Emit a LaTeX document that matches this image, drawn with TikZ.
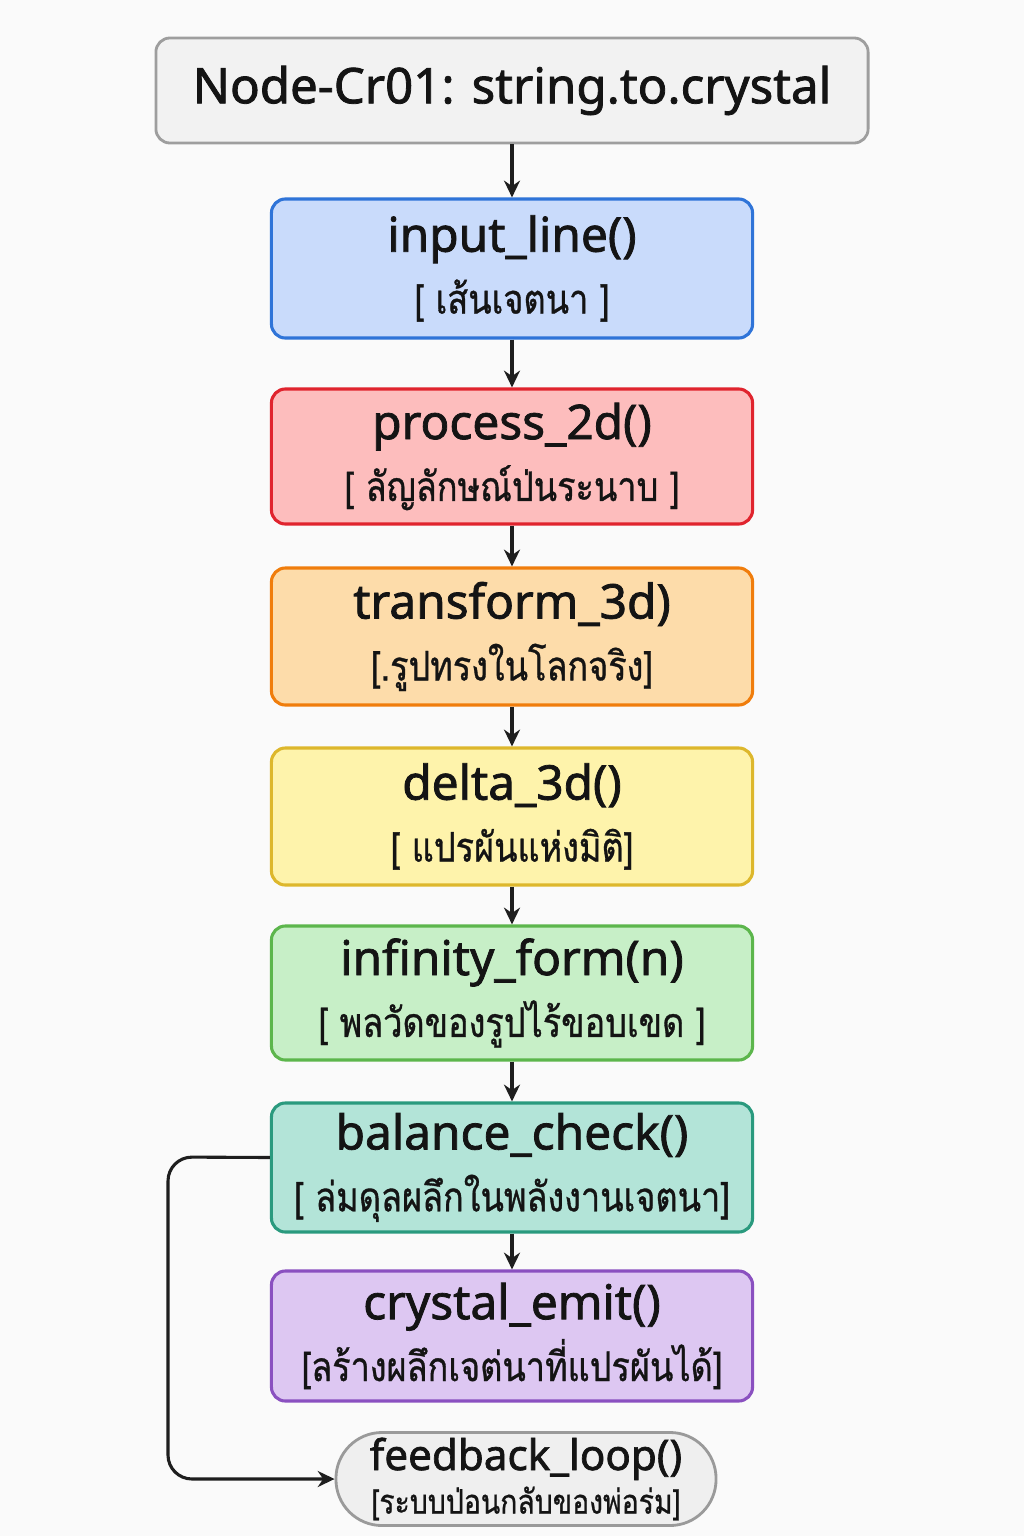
\documentclass[tikz,border=0pt]{standalone}
\usepackage{fontspec}
\setmainfont{Noto Sans}
\newfontfamily\semifont{Noto Sans}[FakeBold=1.6]
\newfontfamily\thaifont[Script=Thai, FakeStretch=0.84, FakeBold=0.8]{Loma}
\usetikzlibrary{arrows.meta}

\definecolor{pagebg}{HTML}{FAFAFA}
\definecolor{topfill}{HTML}{F2F2F2}
\definecolor{topdraw}{HTML}{9E9E9E}
\definecolor{inpfill}{HTML}{C9DBFB}
\definecolor{inpdraw}{HTML}{2F74D8}
\definecolor{prcfill}{HTML}{FDBDBD}
\definecolor{prcdraw}{HTML}{E0242E}
\definecolor{trnfill}{HTML}{FDDCAA}
\definecolor{trndraw}{HTML}{F07D0C}
\definecolor{dltfill}{HTML}{FEF3AB}
\definecolor{dltdraw}{HTML}{DDB72C}
\definecolor{inffill}{HTML}{C7EFC7}
\definecolor{infdraw}{HTML}{5CB64C}
\definecolor{balfill}{HTML}{B3E4D8}
\definecolor{baldraw}{HTML}{2A9A7E}
\definecolor{cryfill}{HTML}{DDC7F2}
\definecolor{crydraw}{HTML}{8A50C0}
\definecolor{fbkfill}{HTML}{EFEFEF}
\definecolor{fbkdraw}{HTML}{9A9A9A}
\definecolor{linecol}{HTML}{1E1E1E}
\definecolor{textcol}{HTML}{141414}

\newcommand{\namefont}{\semifont\fontsize{34}{40}\selectfont}
\newcommand{\thaitext}{\thaifont\fontsize{29}{32}\selectfont}

\tikzset{
  stepbox/.style={draw, rounded corners=0.35cm, line width=2.2pt, minimum width=12.025cm,
    align=center, inner sep=0pt, font=\namefont, text=textcol},
  flow/.style={draw=linecol, line width=2.2pt, -{Stealth[length=0.42cm, width=0.4cm]}}
}

\begin{document}
\begin{tikzpicture}[x=0.025cm, y=-0.025cm]
\fill[pagebg] (0,0) rectangle (1024,1536);
\useasboundingbox (0,0) rectangle (1024,1536);

\node[draw=topdraw, fill=topfill, rounded corners=0.35cm, line width=2pt, minimum width=17.8cm, minimum height=2.625cm, font=\semifont\fontsize{35}{40}\selectfont, text=textcol] (top) at (512,90.5) {Node-Cr01: string.to.crystal};

\node[stepbox, draw=inpdraw, fill=inpfill, minimum height=3.475cm] (inp) at (512,268.5) {input\_line()\\[4pt]{\thaitext [ เส้นเจตนา ]}};
\node[stepbox, draw=prcdraw, fill=prcfill, minimum height=3.375cm] (prc) at (512,456.5) {process\_2d()\\[4pt]{\thaitext [ ลัญลักษณ์ป่นระนาบ ]}};
\node[stepbox, draw=trndraw, fill=trnfill, minimum height=3.425cm] (trn) at (512,636.5) {transform\_3d)\\[4pt]{\thaitext [.รูปทรงในโลกจริง]}};
\node[stepbox, draw=dltdraw, fill=dltfill, minimum height=3.425cm] (dlt) at (512,816.5) {delta\_3d()\\[4pt]{\thaitext [ แปรผันแห่งมิติ]}};
\node[stepbox, draw=infdraw, fill=inffill, minimum height=3.35cm] (inf) at (512,993) {infinity\_form(n)\\[4pt]{\thaitext [ พลวัดของรูปไร้ขอบเขด ]}};
\node[stepbox, draw=baldraw, fill=balfill, minimum height=3.225cm] (bal) at (512,1167.5) {balance\_check()\\[4pt]{\thaitext [ ล่มดุลผลึกในพลังงานเจตนา]}};
\node[stepbox, draw=crydraw, fill=cryfill, minimum height=3.25cm] (cry) at (512,1336) {crystal\_emit()\\[4pt]{\thaitext [ลร้างผลึกเจต่นาที่แปรผันได้]}};

\node[draw=fbkdraw, fill=fbkfill, line width=2pt, rounded corners=1.15cm, minimum width=9.5cm, minimum height=2.325cm, inner sep=0pt, align=center, font=\semifont\fontsize{30}{34}\selectfont, text=textcol] (fbk) at (526,1479) {feedback\_loop()\\[-3pt]{\thaifont\fontsize{24}{26}\selectfont [ระบบป่อนกลับของพ่อร่ม]}};

\foreach \a/\b in {top/inp, inp/prc, prc/trn, trn/dlt, dlt/inf, inf/bal, bal/cry}
  \draw[flow] (\a.south) -- (\b.north);

\coordinate (loopout) at ([yshift=0.25cm]bal.west);
\draw[flow, rounded corners=0.6cm] (loopout) -- (168,1157) |- (fbk.west);

\end{tikzpicture}
\end{document}
